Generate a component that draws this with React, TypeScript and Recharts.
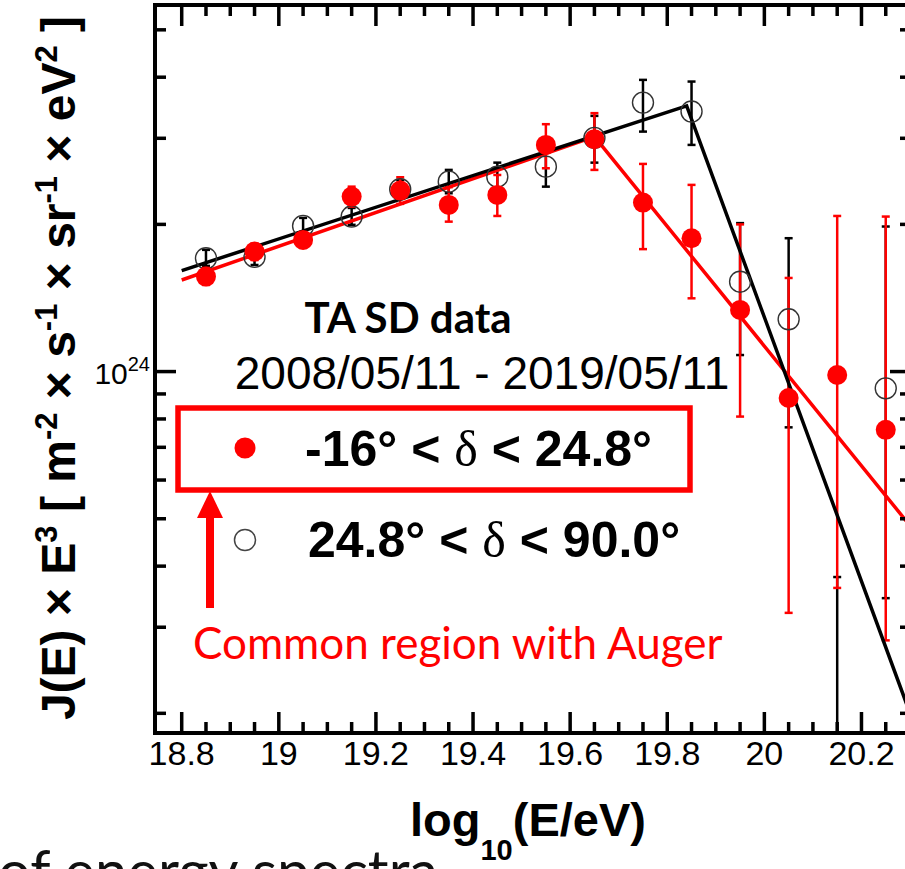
import React from 'react';
import { ComposedChart, XAxis, YAxis, Scatter, Line, ErrorBar } from 'recharts';

// flux values are J(E) x E^3 in units of 1e24 m^-2 s^-1 sr^-1 eV^2
const UNIT = 1e24;

const binCenters = [18.85, 18.95, 19.05, 19.15, 19.25, 19.35, 19.45, 19.55, 19.65, 19.75, 19.85, 19.95, 20.05, 20.15, 20.25];

// -16 < dec < 24.8 (red, filled)
const southFlux = [1.564, 1.760, 1.859, 2.280, 2.345, 2.192, 2.298, 2.908, 2.988, 2.216, 1.874, 1.337, 0.883, 0.984, 0.760];
const southLow = [1.504, 1.691, 1.790, 2.175, 2.203, 2.026, 2.081, 2.605, 2.585, 1.780, 1.412, 0.809, 0.321, 0.361, 0.282];
const southHigh = [1.629, 1.825, 1.931, 2.389, 2.497, 2.383, 2.524, 3.206, 3.377, 2.659, 2.409, 2.000, 1.554, 2.081, 2.075];

// 24.8 < dec < 90 (black, open)
const northFlux = [1.705, 1.716, 1.986, 2.075, 2.360, 2.446, 2.504, 2.625, 3.006, 3.549, 3.403, 1.527, 1.279, 0.150, 0.924];
const northLow = [1.645, 1.652, 1.912, 1.996, 2.255, 2.316, 2.323, 2.389, 2.675, 3.096, 2.908, 1.081, 0.769, 0.050, 0.344];
const northHigh = [1.774, 1.782, 2.062, 2.161, 2.466, 2.585, 2.675, 2.841, 3.334, 3.950, 3.919, 2.012, 1.874, 0.380, 1.980];

// broken power law fits
const southFitX = [18.8, 19.65, 20.3];
const southFitY = [1.539, 3.024, 0.484];
const northFitX = [18.8, 19.84, 20.3];
const northFitY = [1.609, 3.494, 0.200];

// axes
const xDomain = [18.745, 20.302];
const yDomain = [0.1823, 5.62];
const xMajorTicks = [18.8, 19, 19.2, 19.4, 19.6, 19.8, 20, 20.2];
const xMajorLabels = ['18.8', '19', '19.2', '19.4', '19.6', '19.8', '20', '20.2'];
const xMinorTicks = [18.85, 18.9, 18.95, 19.05, 19.1, 19.15, 19.25, 19.3, 19.35, 19.45, 19.5, 19.55, 19.65, 19.7, 19.75, 19.85, 19.9, 19.95, 20.05, 20.1, 20.15, 20.25, 20.3];
const yTicks = [0.2, 0.3, 0.4, 0.5, 0.6, 0.7, 0.8, 0.9, 1, 2, 3, 4, 5];
const yMajorTick = 1;

const RED = '#ff0000';
const PLOT_LEFT = 155;
const PLOT_TOP = 5;
const PLOT_RIGHT = 911;
const PLOT_BOTTOM = 733;
const CHART_W = 925;
const CHART_H = 869;

// error bars are cut at the lower frame, like the original plot
const makePoints = (flux: number[], low: number[], high: number[]) =>
  binCenters.map((x, i) => ({
    x,
    y: flux[i] * UNIT,
    err: [(flux[i] - Math.max(low[i], yDomain[0])) * UNIT, (high[i] - flux[i]) * UNIT],
  }));

const makeFit = (xs: number[], ys: number[]) => xs.map((x, i) => ({ x, y: ys[i] * UNIT }));

const southData = makePoints(southFlux, southLow, southHigh);
const northData = makePoints(northFlux, northLow, northHigh);
const southFit = makeFit(southFitX, southFitY);
const northFit = makeFit(northFitX, northFitY);

const XTick = (props: any) => {
  const { x, payload } = props;
  const y = PLOT_BOTTOM;
  const idx = xMajorTicks.findIndex((m) => Math.abs(m - payload.value) < 1e-6);
  const len = idx >= 0 ? 21 : 11;
  return (
    <g>
      <line x1={x} x2={x} y1={y} y2={y - len} stroke="#000" strokeWidth={3.5} />
      <line x1={x} x2={x} y1={PLOT_TOP} y2={PLOT_TOP + len} stroke="#000" strokeWidth={3.5} />
      {idx >= 0 && (
        <text x={x} y={y + 32} textAnchor="middle" fontSize={34} fontFamily="Liberation Sans" fill="#000">
          {xMajorLabels[idx]}
        </text>
      )}
    </g>
  );
};

const YTick = (props: any) => {
  const { y, payload } = props;
  const x = PLOT_LEFT;
  const major = Math.abs(payload.value - yMajorTick * UNIT) < 1;
  const len = major ? 21 : 11;
  return (
    <g>
      <line x1={x} x2={x + len} y1={y} y2={y} stroke="#000" strokeWidth={3.5} />
      <line x1={PLOT_RIGHT} x2={PLOT_RIGHT - len} y1={y} y2={y} stroke="#000" strokeWidth={3.5} />
      {major && (
        <text x={x - 5} y={y + 12} textAnchor="end" fontSize={30} fontFamily="Liberation Sans" fill="#000">
          10<tspan dy={-13} fontSize={20}>24</tspan>
        </text>
      )}
    </g>
  );
};

const FilledDot = (props: any) => <circle cx={props.cx} cy={props.cy} r={10} fill={RED} />;
const OpenDot = (props: any) => (
  <circle cx={props.cx} cy={props.cy} r={10.5} fill="none" stroke="#333" strokeWidth={1.4} />
);

const SUP = -18;

export default function App() {
  return (
    <div style={{ position: 'fixed', left: 0, top: 0, width: 905, height: 869, overflow: 'hidden', background: '#fff' }}>
      <div style={{ position: 'absolute', left: 0, top: 0 }}>
        <ComposedChart
          width={CHART_W}
          height={CHART_H}
          margin={{ top: PLOT_TOP, right: CHART_W - PLOT_RIGHT, bottom: CHART_H - PLOT_BOTTOM - 1, left: PLOT_LEFT - 1 }}
        >
          <XAxis
            type="number"
            dataKey="x"
            domain={xDomain}
            allowDataOverflow
            ticks={[...xMajorTicks, ...xMinorTicks]}
            interval={0}
            tick={XTick}
            tickLine={false}
            axisLine={false}
            tickSize={0}
            tickMargin={0}
            height={1}
          />
          <YAxis
            type="number"
            dataKey="y"
            scale="log"
            domain={[yDomain[0] * UNIT, yDomain[1] * UNIT]}
            allowDataOverflow
            ticks={yTicks.map((t) => t * UNIT)}
            interval={0}
            tick={YTick}
            tickLine={false}
            axisLine={false}
            tickSize={0}
            tickMargin={0}
            width={1}
          />
          <Scatter data={northData} shape={OpenDot} isAnimationActive={false}>
            <ErrorBar dataKey="err" direction="y" width={4} stroke="#000" strokeWidth={2.5} />
          </Scatter>
          <Scatter data={southData} shape={FilledDot} isAnimationActive={false}>
            <ErrorBar dataKey="err" direction="y" width={4} stroke={RED} strokeWidth={2.5} />
          </Scatter>
          <Line data={southFit} dataKey="y" type="linear" stroke={RED} strokeWidth={3.5} dot={false} isAnimationActive={false} />
          <Line data={northFit} dataKey="y" type="linear" stroke="#000" strokeWidth={3.5} dot={false} isAnimationActive={false} />
        </ComposedChart>
      </div>
      <svg width={905} height={869} style={{ position: 'absolute', left: 0, top: 0, pointerEvents: 'none' }}>
        {/* plot frame */}
        <rect
          x={PLOT_LEFT}
          y={PLOT_TOP}
          width={PLOT_RIGHT - PLOT_LEFT}
          height={PLOT_BOTTOM - PLOT_TOP}
          fill="none"
          stroke="#000"
          strokeWidth={4}
        />

        {/* y axis title */}
        <text
          transform="rotate(-90 75 368)"
          x={75}
          y={368}
          textAnchor="middle"
          fontFamily="Liberation Sans"
          fontWeight="bold"
          fontSize={48}
          fill="#000"
        >
          J(E) × E<tspan dy={SUP} fontSize={31}>3</tspan>
          <tspan dy={-SUP}> [ m</tspan>
          <tspan dy={SUP} fontSize={31}>-2</tspan>
          <tspan dy={-SUP}> × s</tspan>
          <tspan dy={SUP} fontSize={31}>-1</tspan>
          <tspan dy={-SUP}> × sr</tspan>
          <tspan dy={SUP} fontSize={31}>-1</tspan>
          <tspan dy={-SUP}> × eV</tspan>
          <tspan dy={SUP} fontSize={31}>2</tspan>
          <tspan dy={-SUP}> ]</tspan>
        </text>

        {/* x axis title */}
        <text x={410} y={836} fontFamily="Liberation Sans" fontWeight="bold" fontSize={47} fill="#000">
          log<tspan dy={24} fontSize={29}>10</tspan>
          <tspan dy={-24}>(E/eV)</tspan>
        </text>

        {/* legend */}
        <text x={408} y={333} textAnchor="middle" fontFamily="Lato" fontWeight="bold" fontSize={42} fill="#000">
          TA SD data
        </text>
        <text x={482} y={389} textAnchor="middle" fontFamily="Liberation Sans" fontSize={46} fill="#000">
          2008/05/11 - 2019/05/11
        </text>
        <rect x={178} y={408} width={512} height={82} fill="none" stroke={RED} strokeWidth={5.5} />
        <circle cx={245} cy={448} r={10.5} fill={RED} />
        <text x={305} y={466} fontFamily="Liberation Sans" fontWeight="bold" fontSize={50} fill="#000">
          -16° &lt; <tspan fontFamily="Liberation Serif" fontWeight="normal">δ</tspan> &lt; 24.8°
        </text>
        <circle cx={245} cy={540} r={10.5} fill="none" stroke="#444" strokeWidth={1.5} />
        <text x={308} y={557} fontFamily="Liberation Sans" fontWeight="bold" fontSize={50} fill="#000">
          24.8° &lt; <tspan fontFamily="Liberation Serif" fontWeight="normal">δ</tspan> &lt; 90.0°
        </text>

        {/* annotation arrow */}
        <rect x={206} y={514} width={8} height={94} fill={RED} />
        <polygon points="197,518 223,518 210,491" fill={RED} />
        <text x={193} y={659} fontFamily="Lato" fontSize={44} fill={RED}>
          Common region with Auger
        </text>

        {/* slide text behind the figure */}
        <text x={-2} y={892} fontFamily="Lato" fontSize={58} fill="#111">
          of energy spectra
        </text>
      </svg>
    </div>
  );
}
